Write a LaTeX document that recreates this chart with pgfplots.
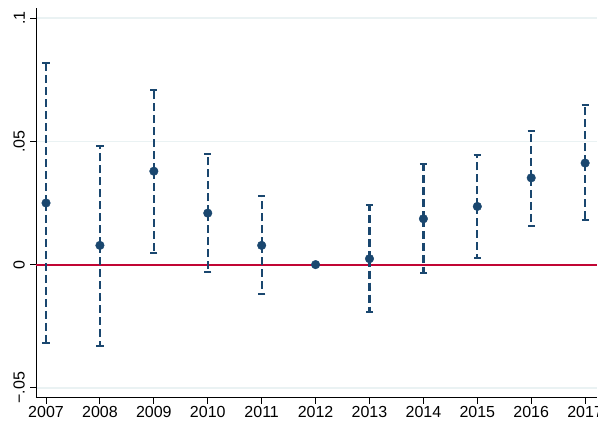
\documentclass[border=0pt]{standalone}
\usepackage{fontspec}
\setmainfont{Liberation Sans}
\usepackage{pgfplots}
\usepackage{pgfplotstable}
\pgfplotsset{compat=1.18}

\definecolor{stnavy}{HTML}{1A476F}
\definecolor{stred}{HTML}{C10534}
\definecolor{stgrid}{HTML}{EAF2F3}

% year, point estimate, lower and upper bound of the interval
\pgfplotstableread{
year b lo hi
2007 0.0250 -0.0319 0.0820
2008 0.0078 -0.0330 0.0483
2009 0.0379 0.0047 0.0710
2010 0.0209 -0.0031 0.0449
2011 0.0078 -0.0120 0.0277
2013 0.0024 -0.0193 0.0240
2014 0.0186 -0.0033 0.0407
2015 0.0236 0.0028 0.0443
2016 0.0352 0.0157 0.0543
2017 0.0412 0.0179 0.0646
}\cis

\pgfplotstableread{
year b
2007 0.0250
2008 0.0078
2009 0.0379
2010 0.0209
2011 0.0078
2012 0.0000
2013 0.0024
2014 0.0186
2015 0.0236
2016 0.0352
2017 0.0412
}\coefs

\begin{document}
\begin{tikzpicture}
\begin{axis}[
    scale only axis,
    width=561pt, height=389.4pt,
    xmin=2006.814, xmax=2017.22,
    ymin=-0.054, ymax=0.104,
    axis lines*=left,
    axis line style={black, line width=0.9pt},
    tick style={black, line width=0.9pt},
    tick align=outside,
    major tick length=6pt,
    xtick={2007,2008,2009,2010,2011,2012,2013,2014,2015,2016,2017},
    xticklabels={2007,2008,2009,2010,2011,2012,2013,2014,2015,2016,2017},
    ytick={-0.05,0,0.05,0.1},
    yticklabels={−.05,0,.05,.1},
    tick label style={font=\fontsize{16}{19}\selectfont},
    yticklabel style={rotate=90, anchor=south, inner xsep=0pt, inner ysep=5pt},
    xticklabel style={inner sep=1pt, yshift=-1pt},
    ymajorgrids,
    major grid style={stgrid, line width=1.5pt},
    clip=false,
]
\addplot[stred, line width=2pt, forget plot] coordinates {(2006.814,0) (2017.22,0)};

\addplot[draw=none, mark=none, forget plot,
    error bars/.cd, y dir=both, y explicit,
    error mark=|,
    error bar style={draw=stnavy, line width=2.2pt, dash pattern=on 8pt off 4pt},
    error mark options={draw=stnavy, solid, line width=2pt, mark size=3.6pt}]
    table[x=year, y=b, y error plus expr=\thisrow{hi}-\thisrow{b},
          y error minus expr=\thisrow{b}-\thisrow{lo}] {\cis};

\addplot[only marks, mark=*, mark size=4.3pt, stnavy, mark options={fill=stnavy, draw=stnavy}]
    table[x=year, y=b] {\coefs};
\end{axis}
\pgfresetboundingbox
\path (current axis.south west) ++(-36pt,-27.3pt) rectangle ++(598pt,425pt);
\end{tikzpicture}
\end{document}
